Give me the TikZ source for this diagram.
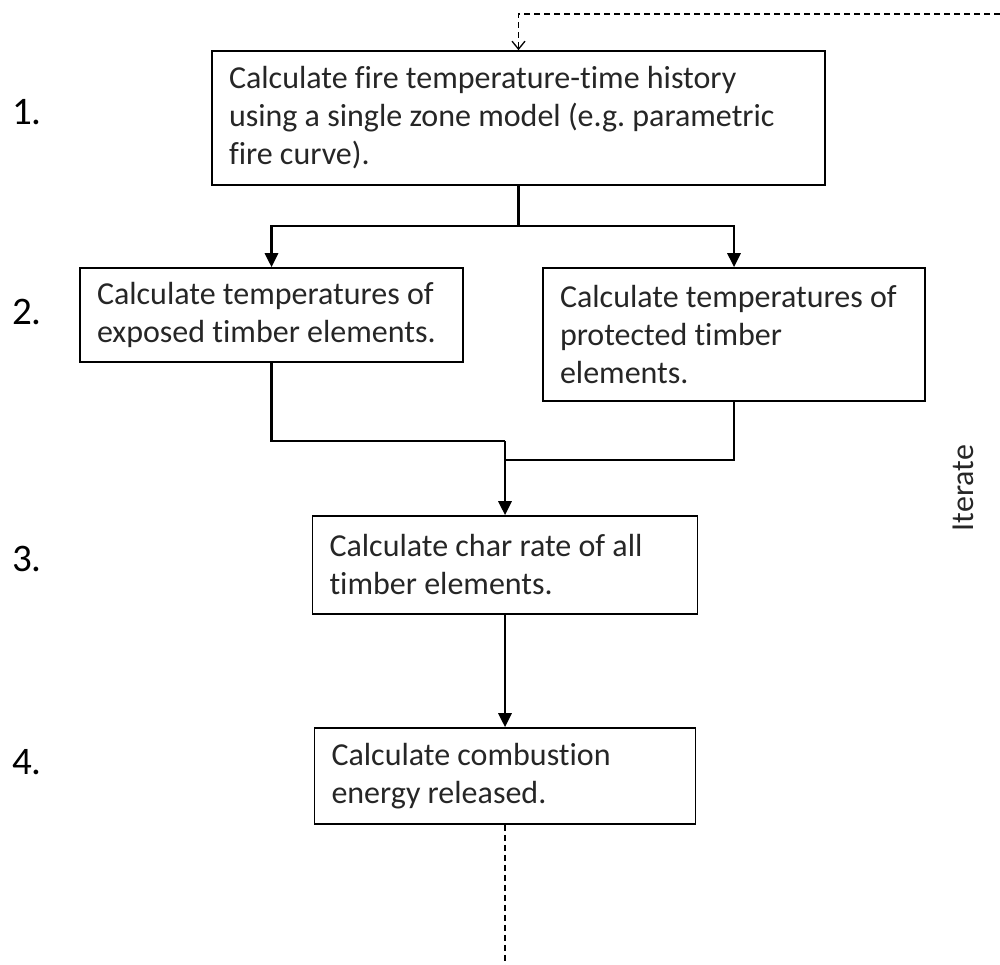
\documentclass[tikz,border=0pt]{standalone}
\usepackage{fontspec}
\setmainfont{Carlito}[Ligatures=NoCommon]
\usetikzlibrary{arrows.meta}
\begin{document}
\frenchspacing
\begin{tikzpicture}[x=1pt,y=-1pt,>={Triangle[length=14pt,width=13pt]}, font=\fontsize{32}{38}\selectfont, text=black!85, line join=miter,
	box/.style={draw,line width=1.6pt,align=flush left,inner xsep=17pt,inner ysep=0pt},
	flow/.style={->,line width=2.8pt},
	joint/.style={line width=2.8pt},
	loop/.style={line width=1.3pt,dash pattern=on 6pt off 4pt},
	stepno/.style={font=\fontsize{39}{44}\selectfont,text=black}]
	\useasboundingbox (0,0) rectangle (1000,965);
	% boxes
	\node[box,minimum width=613pt,minimum height=134pt,text width=579pt] (fire) at (518.5,118) {Calculate fire temperature-time history\\using a single zone model (e.g. parametric\\fire curve).};
	\node[box,minimum width=383pt,minimum height=94pt,text width=349pt] (exposed) at (271.5,315) {Calculate temperatures of\\exposed timber elements.};
	\node[box,minimum width=382pt,minimum height=133pt,text width=348pt] (protected) at (734,334.5) {Calculate temperatures of\\protected timber\\elements.};
	\node[box,minimum width=385pt,minimum height=98pt,text width=351pt] (char) at (505,565) {Calculate char rate of all\\timber elements.};
	\node[box,minimum width=381pt,minimum height=96pt,text width=347pt] (energy) at (505,776) {Calculate combustion\\energy released.};
	% step numbers
	\node[stepno] (n1) at (27,112) {1.};
	\node[stepno] (n2) at (27,312) {2.};
	\node[stepno] (n3) at (27,559) {3.};
	\node[stepno] (n4) at (27,762) {4.};
	\node[rotate=90] (iter) at (963,488) {Iterate};
	% connectors
	\coordinate (split) at (518.5,226);
	\coordinate (meetL) at (505,441);
	\coordinate (meetR) at (505,460);
	\coordinate (back) at (1000,14);
	\coordinate (tail) at (505,965);
	\draw[joint] (fire.south) -- (split);
	\draw[flow] (split) -| (exposed.north);
	\draw[flow] (split) -| (protected.north);
	\draw[joint] (exposed.south) |- (meetL);
	\draw[joint] (protected.south) |- (meetR);
	\draw[flow] (meetL) -- (char.north);
	\draw[flow] (char.south) -- (energy.north);
	\draw[loop] (energy.south) -- (tail);
	\draw[loop,-{Straight Barb[length=8pt,width=13pt]}] (back) -| (fire.north);
\end{tikzpicture}
\end{document}
